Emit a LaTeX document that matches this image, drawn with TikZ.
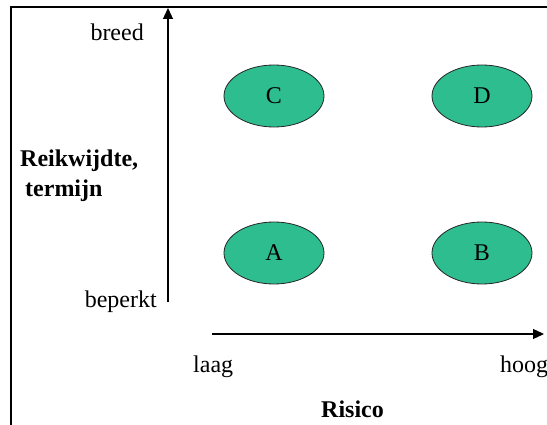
\documentclass[tikz,border=0pt]{standalone}
\usepackage{fontspec}
\setmainfont{Liberation Serif}
\usetikzlibrary{arrows.meta,shapes.geometric}
\definecolor{blobgreen}{RGB}{46,189,143}
\tikzset{
  blob/.style={ellipse, draw=black!85, line width=0.8pt, fill=blobgreen, minimum width=100pt, minimum height=62pt, inner sep=0pt, font=\fontsize{24}{28}\selectfont},
  lbl/.style={inner sep=0pt, font=\fontsize{24}{28}\selectfont},
  blbl/.style={inner sep=0pt, font=\fontsize{24}{28}\selectfont\bfseries},
  axis/.style={line width=1.3pt, -{Triangle[width=10pt,length=11pt]}},
  frame/.style={line width=1.5pt}
}
\begin{document}
\begin{tikzpicture}[x=1pt,y=-1pt]
\useasboundingbox (0,0) rectangle (547,425);
\clip (0,0) rectangle (547,425);
% frame
\coordinate (fa) at (11,425);
\coordinate (fb) at (11,7);
\coordinate (fc) at (547,7);
\draw[frame] (fa) -- (fb) -- (fc);
% axes
\coordinate (v0) at (168,302);
\coordinate (v1) at (168,8);
\coordinate (h0) at (212,334);
\coordinate (h1) at (544,334);
\draw[axis] (v0) -- (v1);
\draw[axis] (h0) -- (h1);
% ellipses
\node[blob] (C) at (274,96) {C};
\node[blob] (D) at (482,96) {D};
\node[blob] (A) at (274,253) {A};
\node[blob] (B) at (482,253) {B};
% labels
\node[lbl, anchor=base east] (breed) at (144,41) {breed};
\node[lbl, anchor=base east] (beperkt) at (157,308) {beperkt};
\node[lbl, anchor=base west] (laag) at (193,372) {laag};
\node[lbl, anchor=base west] (hoog) at (500,372) {hoog};
\node[blbl, anchor=base west] (rw) at (20,167) {Reikwijdte,};
\node[blbl, anchor=base west] (tm) at (25,197) {termijn};
\node[blbl, anchor=base west] (risico) at (321,417) {Risico};
\end{tikzpicture}
\end{document}
